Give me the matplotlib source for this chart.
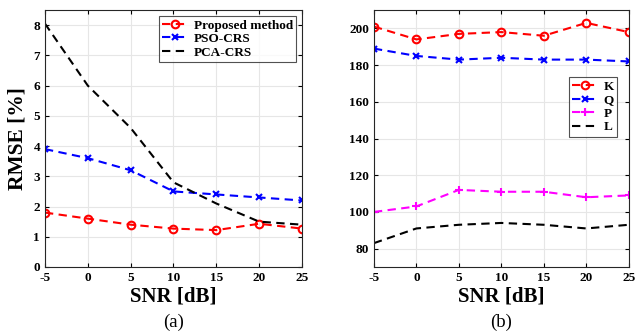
import numpy as np
import matplotlib
matplotlib.use('Agg')
import matplotlib.pyplot as plt

snr = [-5, 0, 5, 10, 15, 20, 25]

# (a) RMSE [%]
rmse_proposed = [1.80, 1.60, 1.40, 1.27, 1.22, 1.43, 1.27]
rmse_pso = [3.90, 3.60, 3.20, 2.50, 2.40, 2.30, 2.20]
rmse_pca = [8.05, 6.00, 4.60, 2.80, 2.10, 1.50, 1.40]

# (b)
val_K = [201, 194, 197, 198, 196, 203, 198]
val_Q = [189, 185, 183, 184, 183, 183, 182]
val_P = [100, 103, 112, 111, 111, 108, 109]
val_L = [83, 91, 93, 94, 93, 91, 93]

plt.rcParams.update({'font.family': 'Liberation Serif', 'font.weight': 'bold',
                     'mathtext.fontset': 'stix'})

line_w = 1.5
dash = (4, 2.6)

fig = plt.figure(figsize=(6.37, 3.35), dpi=100)
ax1 = fig.add_axes([0.0706, 0.203, 0.4035, 0.767])
ax2 = fig.add_axes([0.587, 0.203, 0.400, 0.767])


def style_axes(ax):
    ax.grid(True, color='#e6e6e6', linewidth=0.8)
    ax.set_axisbelow(True)
    ax.tick_params(direction='in', top=True, right=True, labelsize=9.5, length=3, width=0.8)
    for s in ax.spines.values():
        s.set_linewidth(0.8)
        s.set_color('#262626')
    for lab in ax.get_xticklabels() + ax.get_yticklabels():
        lab.set_fontweight('bold')
    ax.set_xlabel('SNR [dB]', fontsize=15, fontweight='bold', labelpad=2)


ax1.plot(snr, rmse_proposed, color='red', linestyle='--', dashes=dash, linewidth=line_w, marker='o',
         markersize=5.5, markerfacecolor='none', markeredgewidth=1.5, label='Proposed method')
ax1.plot(snr, rmse_pso, color='blue', linestyle='--', dashes=dash, linewidth=line_w, marker='x',
         markersize=4, markeredgewidth=1.5, label='PSO-CRS')
ax1.plot(snr, rmse_pca, color='black', linestyle='--', dashes=dash, linewidth=line_w, label='PCA-CRS')
ax1.set_xlim(-5, 25)
ax1.set_ylim(0, 8.5)
ax1.set_xticks(snr)
ax1.set_xticklabels([str(v) for v in snr])
ax1.set_yticks(range(0, 9))
style_axes(ax1)
ax1.set_ylabel('RMSE [%]', fontsize=15.5, fontweight='bold', labelpad=4)
leg1 = ax1.legend(loc='upper right', fontsize=9.5, frameon=True, fancybox=False,
                  edgecolor='#262626', borderpad=0.25, labelspacing=0.1, handlelength=2.0,
                  handletextpad=0.4, borderaxespad=0.45)
leg1.get_frame().set_linewidth(0.8)

ax2.plot(snr, val_K, color='red', linestyle='--', dashes=dash, linewidth=line_w, marker='o',
         markersize=5.5, markerfacecolor='none', markeredgewidth=1.5, label='K')
ax2.plot(snr, val_Q, color='blue', linestyle='--', dashes=dash, linewidth=line_w, marker='x',
         markersize=4, markeredgewidth=1.5, label='Q')
ax2.plot(snr, val_P, color='magenta', linestyle='--', dashes=dash, linewidth=line_w, marker='+',
         markersize=6, markeredgewidth=1.5, label='P')
ax2.plot(snr, val_L, color='black', linestyle='--', dashes=dash, linewidth=line_w, label='L')
ax2.set_xlim(-5, 25)
ax2.set_ylim(70, 210)
ax2.set_xticks(snr)
ax2.set_xticklabels([str(v) for v in snr])
ax2.set_yticks(range(80, 201, 20))
style_axes(ax2)
leg2 = ax2.legend(loc='upper right', bbox_to_anchor=(0.98, 0.765), fontsize=9.5, frameon=True,
                  fancybox=False, edgecolor='#262626', borderpad=0.25, labelspacing=0.1,
                  handlelength=2.0, handletextpad=0.4)
leg2.get_frame().set_linewidth(0.8)

for leg in (leg1, leg2):
    for t in leg.get_texts():
        t.set_fontweight('bold')

fig.text(0.2725, 0.025, '(a)', ha='center', fontsize=13.5, fontweight='normal')
fig.text(0.787, 0.025, '(b)', ha='center', fontsize=13.5, fontweight='normal')

fig.savefig('out.png', dpi=100)
